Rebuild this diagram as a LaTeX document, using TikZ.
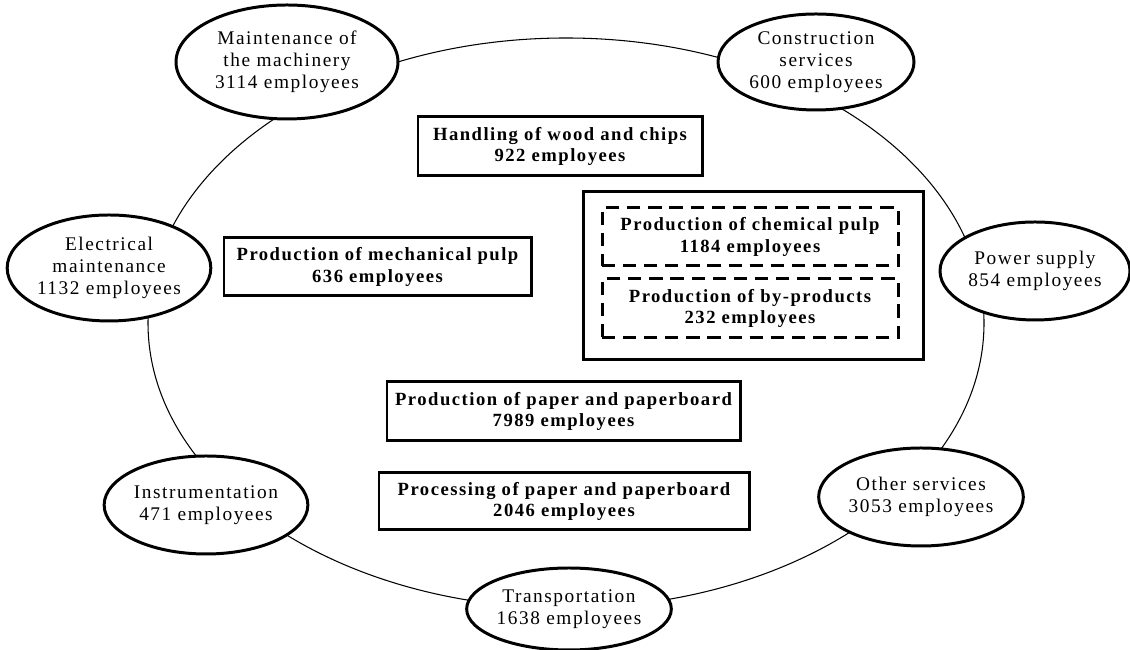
\documentclass[tikz,border=0pt]{standalone}
\usepackage{fontspec}
\setmainfont{Liberation Serif}[LetterSpace=8]
\usetikzlibrary{shapes.geometric}
\tikzset{
	service/.style={ellipse, draw, line width=1.7pt, fill=white, inner sep=0pt, align=center, font=\fontsize{11}{12.6}\selectfont},
	process/.style={rectangle, draw, line width=1.7pt, fill=white, inner sep=0pt, align=center, font=\bfseries\fontsize{10.6}{12.4}\selectfont},
	subprocess/.style={process, dash pattern=on 7.5pt off 4.5pt},
	ring/.style={line width=0.6pt},
}

\begin{document}
\begin{tikzpicture}
		%%%%% START %%%%%
		\useasboundingbox (0, 0) rectangle (22.6, 13);
		
		\draw[ring] (11.32, 6.54) ellipse (8.36 and 5.7);
		
		%% services round the mill
		\node[service, minimum width=4.44cm, minimum height=2.28cm] (machinery) at (5.74, 11.76) {Maintenance of\\the machinery\\3114 employees};
		\node[service, minimum width=3.92cm, minimum height=1.92cm] (construction) at (16.32, 11.76) {Construction\\services\\600 employees};
		\node[service, minimum width=3.92cm, minimum height=2.12cm] (electrical) at (2.18, 7.64) {Electrical\\maintenance\\1132 employees};
		\node[service, minimum width=3.8cm, minimum height=1.96cm] (power) at (20.7, 7.58) {Power supply\\854 employees};
		\node[service, minimum width=3.92cm, minimum height=1.96cm] (instrumentation) at (4.12, 2.9) {Instrumentation\\471 employees};
		\node[service, minimum width=3.92cm, minimum height=1.96cm] (other) at (18.42, 3.06) {Other services\\3053 employees};
		\node[service, minimum width=3.72cm, minimum height=1.64cm] (transportation) at (11.38, 0.82) {Transportation\\1638 employees};
		
		%% production
		\node[process, minimum width=5.68cm, minimum height=1.18cm] (wood) at (11.2, 10.07) {Handling of wood and chips\\922 employees};
		\node[process, minimum width=6.14cm, minimum height=1.16cm] (mechanical) at (7.55, 7.66) {Production of mechanical pulp\\636 employees};
		
		\node[process, minimum width=6.8cm, minimum height=3.36cm] (pulpmill) at (15.06, 7.48) {};
		\node[subprocess, minimum width=5.92cm, minimum height=1.16cm] (chemical) at (15.0, 8.26) {Production of chemical pulp\\1184 employees};
		\node[subprocess, minimum width=5.92cm, minimum height=1.18cm] (byproducts) at (15.0, 6.83) {Production of by-products\\232 employees};
		
		\node[process, minimum width=7.06cm, minimum height=1.18cm] (paper) at (11.27, 4.77) {Production of paper and paperboard\\7989 employees};
		\node[process, minimum width=7.4cm, minimum height=1.14cm] (processing) at (11.28, 2.97) {Processing of paper and paperboard\\2046 employees};
		
		%%%%% END %%%%%
	\end{tikzpicture}
\end{document}
